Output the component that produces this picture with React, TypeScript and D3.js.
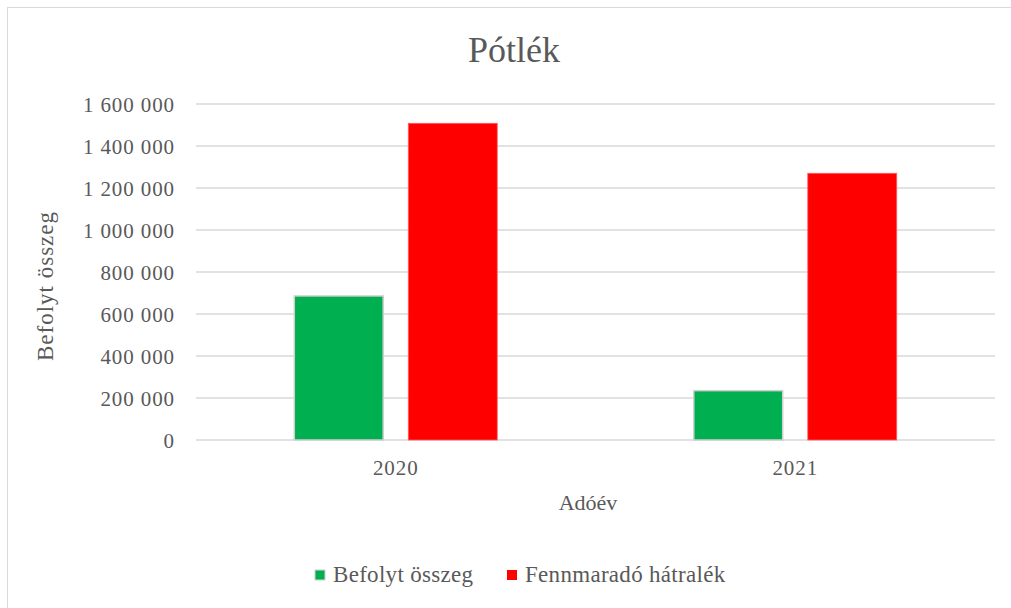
import React from 'react';
import * as d3 from 'd3';

const years = ['2020', '2021'];
const seriesNames = ['Befolyt összeg', 'Fennmaradó hátralék'];
const befolyt = [686000, 235000];
const fennmarado = [1508000, 1270000];
const yTicks = [0, 200000, 400000, 600000, 800000, 1000000, 1200000, 1400000, 1600000];
const colors = ['#00b050', '#ff0000'];
const strokes = ['#d0d0d0', '#ff5a5a'];

const W = 1011;
const H = 608;
const margin = { left: 196, right: 995, top: 104, bottom: 440 };
const FONT = '"Liberation Serif", "Times New Roman", serif';
const TXT = '#595959';

const huLocale = d3.formatLocale({
  decimal: ',',
  thousands: '\u00a0',
  grouping: [3],
  currency: ['', ' Ft'],
});
const fmt = huLocale.format(',');

export default function App() {
  const x0 = d3.scaleBand<string>().domain(years).range([margin.left, margin.right]);
  const x1 = d3
    .scaleBand<string>()
    .domain(seriesNames)
    .range([0, x0.bandwidth()])
    .paddingInner(0.22)
    .paddingOuter(0.862);
  const y = d3.scaleLinear().domain([0, 1600000]).range([margin.bottom, margin.top]);

  const values = [befolyt, fennmarado];

  return (
    <svg
      width={W}
      height={H}
      style={{ position: 'absolute', left: 0, top: 0, background: '#fff' }}
      fontFamily={FONT}
    >
      {/* chart frame */}
      <rect x={7.5} y={7.5} width={1010} height={610} fill="#fff" stroke="#d9d9d9" strokeWidth={1} />

      {/* title */}
      <text x={514} y={62} textAnchor="middle" fontSize={36} fill={TXT}>
        Pótlék
      </text>

      {/* gridlines */}
      {yTicks.map((t) => (
        <line
          key={t}
          x1={margin.left}
          x2={margin.right}
          y1={y(t)}
          y2={y(t)}
          stroke="#d9d9d9"
          strokeWidth={1.5}
        />
      ))}

      {/* y tick labels */}
      {yTicks.map((t) => (
        <text
          key={'l' + t}
          x={175}
          y={y(t) + 7.5}
          textAnchor="end"
          fontSize={21}
          letterSpacing={0.9}
          fill={TXT}
        >
          {fmt(t)}
        </text>
      ))}

      {/* bars */}
      {years.map((yr, i) => (
        <g key={yr} transform={`translate(${x0(yr)},0)`}>
          {seriesNames.map((s, j) => (
            <rect
              key={s}
              x={x1(s)}
              y={y(values[j][i])}
              width={x1.bandwidth()}
              height={y(0) - y(values[j][i])}
              fill={colors[j]}
              stroke={strokes[j]}
              strokeWidth={j === 0 ? 1.5 : 0.8}
            />
          ))}
        </g>
      ))}

      {/* x tick labels */}
      {years.map((yr) => (
        <text
          key={'x' + yr}
          x={(x0(yr) as number) + x0.bandwidth() / 2}
          y={475}
          textAnchor="middle"
          fontSize={21}
          letterSpacing={0.9}
          fill={TXT}
        >
          {yr}
        </text>
      ))}

      {/* axis titles */}
      <text x={588} y={510} textAnchor="middle" fontSize={22} fill={TXT}>
        Adóév
      </text>
      <text
        transform="translate(53,286) rotate(-90)"
        textAnchor="middle"
        fontSize={23}
        letterSpacing={1}
        fill={TXT}
      >
        Befolyt összeg
      </text>

      {/* legend */}
      {seriesNames.map((s, j) => {
        const lx = j === 0 ? 315 : 507;
        return (
          <g key={'lg' + s}>
            <rect
              x={lx}
              y={570}
              width={10}
              height={10}
              fill={colors[j]}
              stroke={j === 0 ? '#d0d0d0' : 'none'}
              strokeWidth={1}
            />
            <text x={lx + 18} y={582} fontSize={23} letterSpacing={0.3} fill={TXT}>
              {s}
            </text>
          </g>
        );
      })}
    </svg>
  );
}
